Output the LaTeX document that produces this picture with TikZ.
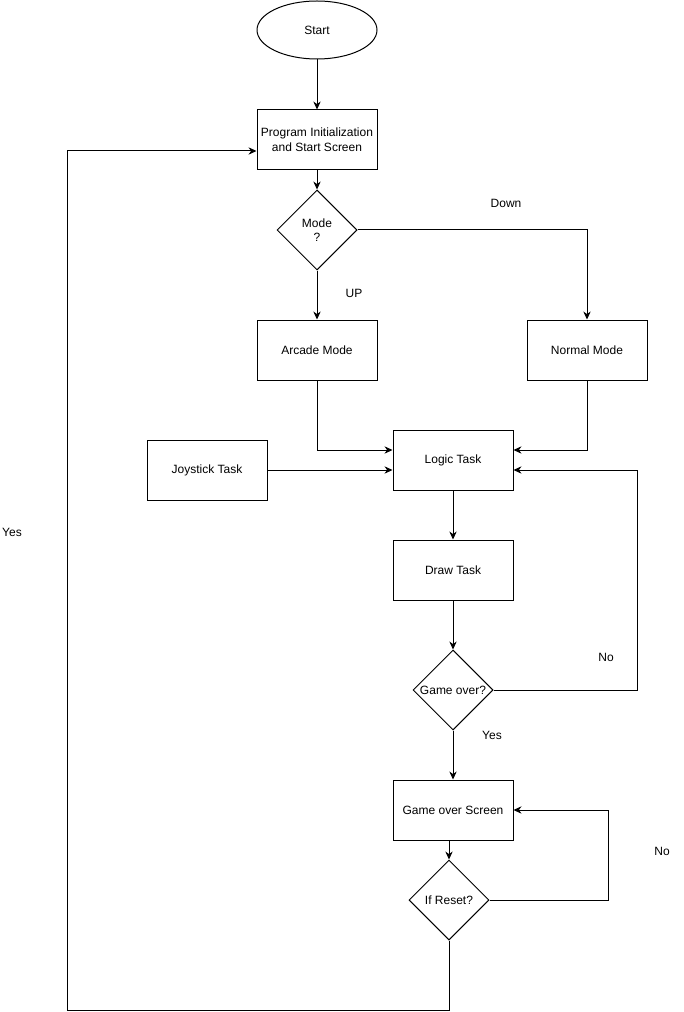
\documentclass[tikz,border=0pt]{standalone}
\usepackage{fontspec}
\setmainfont{Liberation Sans}
\usetikzlibrary{shapes.geometric,arrows.meta}

\begin{document}
\begin{tikzpicture}[x=0.75pt,y=-0.75pt,
        every node/.style={font=\fontsize{9}{11}\selectfont},
        box/.style={draw=black,line width=0.75pt,minimum width=90pt,minimum height=45pt,inner sep=1pt,align=center},
        decision/.style={draw=black,line width=0.75pt,diamond,minimum width=60pt,minimum height=60pt,inner sep=0pt},
        terminal/.style={draw=black,line width=0.75pt,ellipse,minimum width=90pt,minimum height=43.5pt,inner sep=0pt},
        flow/.style={draw=black,line width=0.75pt,-{Stealth[length=6pt,width=5.5pt]}}]
        \useasboundingbox (0,0) rectangle (684,1012);
        \node[terminal] (start) at (317,30) {Start};
        \node[box] (init) at (317,140) {Program Initialization\\and Start Screen};
        \node[decision,label={[align=center,font=\fontsize{9}{11}\selectfont]center:Mode\\?}] (mode) at (317,230) {};
        \node[box] (arcade) at (317,350) {Arcade Mode};
        \node[box] (normal) at (587,350) {Normal Mode};
        \node[box] (joy) at (207,470) {Joystick Task};
        \node[box] (logic) at (453,460) {Logic Task};
        \node[box] (drawtask) at (453,570) {Draw Task};
        \node[decision,label={center:Game over?}] (over) at (453,690) {};
        \node[box] (gos) at (453,810) {Game over Screen};
        \node[decision,label={center:If Reset?}] (reset) at (449,900) {};
        \coordinate (back) at (67,1010);
        % connectors
        \draw[flow] (start) -- (init);
        \draw[flow] (init) -- (mode);
        \draw[flow] (mode) -- (arcade);
        \draw[flow] (mode.east) -| (normal.north);
        \draw[flow] (arcade.south) |- ([yshift=7.5pt]logic.west);
        \draw[flow] (normal.south) |- ([yshift=7.5pt]logic.east);
        \draw[flow] (joy.east) -- (joy.east -| logic.west);
        \draw[flow] (logic) -- (drawtask);
        \draw[flow] (drawtask) -- (over);
        \draw[flow] (over.east) -- ++(144,0) |- ([yshift=-7.5pt]logic.east);
        \draw[flow] (over) -- (gos);
        \draw[flow] (gos.south -| reset.north) -- (reset.north);
        \draw[flow] (reset.east) -- ++(119,0) |- (gos.east);
        \draw[flow] (reset.south) |- (back) |- ([yshift=-8.25pt]init.west);
        % labels
        \node (down) at (506,203) {Down};
        \node (up) at (354,293) {UP};
        \node (no1) at (606,657) {No};
        \node (yes1) at (492,735) {Yes};
        \node (no2) at (662,851) {No};
        \node (yes2) at (12,532) {Yes};
\end{tikzpicture}
\end{document}
